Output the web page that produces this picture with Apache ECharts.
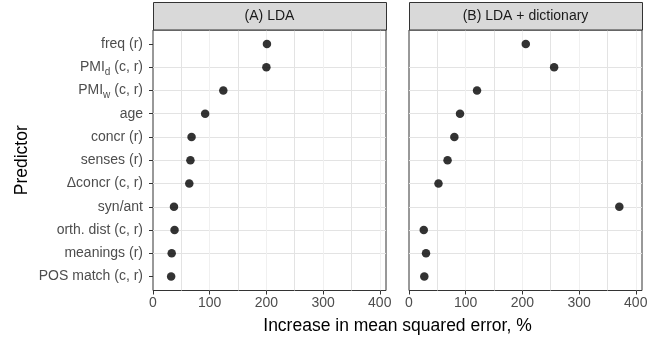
<!DOCTYPE html>
<html>
<head>
<meta charset="utf-8">
<script src="https://cdn.jsdelivr.net/npm/echarts@6/dist/echarts.min.js"></script>
<style>
  html, body { margin: 0; padding: 0; background: #fff; }
  #chart { width: 660px; height: 339px; }
</style>
</head>
<body>
<div id="chart"></div>
<script>
// predictors, top to bottom
const predictors = [
  "freq (r)",
  "PMI{sub|d} (c, r)",
  "PMI{sub|w} (c, r)",
  "age",
  "concr (r)",
  "senses (r)",
  "\u0394concr (c, r)",
  "syn/ant",
  "orth. dist (c, r)",
  "meanings (r)",
  "POS match (c, r)",
];
const panelTitles = ["(A) LDA", "(B) LDA + dictionary"];
const ldaValues = [201, 200, 124, 92, 68, 66, 64, 37, 38, 33, 32];
const dictValues = [206, 256, 120, 90, 80, 68, 52, 371, 26, 30, 27];
const xTickValues = [0, 100, 200, 300, 400];

const font = "Liberation Sans";
const panelLeft = [153, 409];
const panelWidth = 233;
const panelTop = 30;
const panelHeight = 260.5;
const rowPositions = predictors.map((_, i) => i + 1);

const chart = echarts.init(document.getElementById("chart"), null, { renderer: "canvas" });

const grids = panelLeft.map((left) => ({
  left,
  top: panelTop,
  width: panelWidth,
  height: panelHeight,
  show: true,
  backgroundColor: "#fff",
  borderColor: "#333",
  borderWidth: 1,
}));

// axis 0/1: labels + ticks, axis 2/3: gridlines every 50
const xAxes = [];
[0, 1].forEach((g) => {
  xAxes.push({
    type: "value",
    gridIndex: g,
    min: 0,
    max: 411,
    axisLine: { show: false },
    axisTick: { customValues: xTickValues, length: 4, lineStyle: { color: "#333" } },
    axisLabel: {
      customValues: xTickValues,
      margin: 6,
      color: "#4D4D4D",
      fontSize: 14,
      fontFamily: font,
    },
    splitLine: { show: false },
  });
});
[0, 1].forEach((g) => {
  xAxes.push({
    type: "value",
    gridIndex: g,
    min: 0,
    max: 411,
    interval: 50,
    axisLine: { show: false },
    axisTick: { show: false },
    axisLabel: { show: false },
    splitLine: {
      show: true,
      showMinLine: false,
      showMaxLine: false,
      lineStyle: { color: ["#E3E3E3", "#F0F0F0"], width: 1 },
    },
  });
});

const yAxes = [0, 1].map((g) => ({
  type: "value",
  gridIndex: g,
  inverse: true,
  min: 0.4,
  max: 11.6,
  name: g === 0 ? "Predictor" : "",
  nameLocation: "middle",
  nameGap: 122,
  nameTextStyle: { fontSize: 17.5, color: "#000", fontFamily: font },
  axisLine: { show: false },
  axisTick: {
    show: g === 0,
    customValues: rowPositions,
    length: 4,
    lineStyle: { color: "#333" },
  },
  axisLabel: {
    show: g === 0,
    customValues: rowPositions,
    margin: 10,
    color: "#4D4D4D",
    fontSize: 14,
    fontFamily: font,
    formatter: (v) => predictors[Math.round(v) - 1],
    rich: {
      sub: { fontSize: 10, color: "#4D4D4D", fontFamily: font, verticalAlign: "bottom", lineHeight: 20 },
    },
  },
  splitLine: {
    show: true,
    showMinLine: false,
    showMaxLine: false,
    lineStyle: { color: "#E3E3E3", width: 1 },
  },
}));

const makeSeries = (values, g) => ({
  type: "scatter",
  xAxisIndex: g,
  yAxisIndex: g,
  symbol: "circle",
  symbolSize: 8.5,
  itemStyle: { color: "#000" },
  data: values.map((v, i) => [v, i + 1]),
  z: 5,
});

const strips = [];
panelLeft.forEach((left, i) => {
  strips.push({
    type: "rect",
    shape: { x: left + 0.5, y: 2.5, width: panelWidth, height: panelTop - 2.5 },
    style: { fill: "#D9D9D9", stroke: "#333", lineWidth: 1 },
    z: 10,
  });
  strips.push({
    type: "text",
    x: left + panelWidth / 2,
    y: 16.5,
    style: {
      text: panelTitles[i],
      fill: "#1A1A1A",
      fontSize: 14,
      fontFamily: font,
      align: "center",
      verticalAlign: "middle",
    },
    z: 11,
  });
});
strips.push({
  type: "text",
  x: (panelLeft[0] + panelLeft[1] + panelWidth) / 2,
  y: 326,
  style: {
    text: "Increase in mean squared error, %",
    fill: "#000",
    fontSize: 17.5,
    fontFamily: font,
    align: "center",
    verticalAlign: "middle",
  },
});

chart.setOption({
  animation: false,
  grid: grids,
  xAxis: xAxes,
  yAxis: yAxes,
  graphic: strips,
  series: [makeSeries(ldaValues, 0), makeSeries(dictValues, 1)],
});
</script>
</body>
</html>
